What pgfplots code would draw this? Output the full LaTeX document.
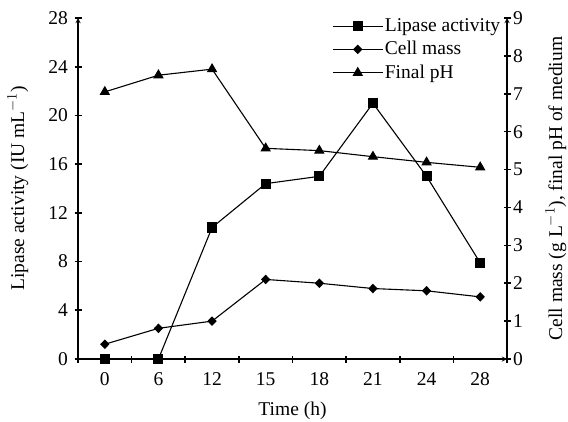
\documentclass[border=0pt]{standalone}
\usepackage{fontspec}
\setmainfont{Liberation Serif}
\usepackage{pgfplots}
\pgfplotsset{compat=1.18}
\usetikzlibrary{calc}

\begin{document}
\fontsize{19.5bp}{23bp}\selectfont
\begin{tikzpicture}
\pgfplotsset{
  every axis/.append style={
    width=429bp, height=341bp, scale only axis,
    xmin=-0.5, xmax=7.5,
    /pgf/number format/assume math mode=true,
    tick align=outside,
    axis line style={-, line width=1.3bp},
    every tick/.style={line width=1.6bp, black},
    major tick length=7bp, minor tick length=7bp,
    every axis plot/.append style={black, line width=1.1bp},
  },
}
\begin{axis}[
  name=ax,
  axis x line=bottom, axis y line=left,
  ymin=0, ymax=28, ytick={0,4,...,28},
  xtick={0,...,7}, xticklabels={0,6,12,15,18,21,24,28},
  minor xtick={-0.5,0.5,...,7.5},
  major x tick style={draw=none},
  xticklabel style={yshift=-3bp},
  xlabel={Time (h)},
  xlabel style={at={(axis description cs:0.5,-0.152)}, anchor=center},
  ylabel={Lipase activity (IU mL$^{-1}$)},
  ylabel style={at={(axis description cs:-0.14,0.5)}, anchor=center},
]
\addplot[mark=square*, mark size=4.5bp] coordinates {
  (0,0) (1,0) (2,10.8) (3,14.4) (4,15.0) (5,21.0) (6,15.0) (7,7.9)
};
\end{axis}
\begin{axis}[
  axis x line=none, axis y line=right,
  ymin=0, ymax=9, ytick={0,...,9},
  yticklabel style={xshift=-4bp},
  ylabel={Cell mass (g L$^{-1}$), final pH of medium},
  ylabel style={at={(axis description cs:1.114,0.5)}, anchor=center},
  legend style={at={(axis description cs:0.995,1.01)}, anchor=north east,
    draw=none, fill=none, row sep=4bp, nodes={inner sep=1.5bp}},
  legend cell align=left,
  legend image code/.code={\draw[mark repeat=2,mark phase=2,#1] plot coordinates {(0bp,0bp) (25bp,0bp) (50bp,0bp)};},
]
\addlegendimage{black, line width=1.1bp, mark=square*, mark size=4.5bp}
\addlegendentry{Lipase activity}
\addplot[mark=diamond*, mark size=4bp, mark options={xscale=1.3}] coordinates {
  (0,0.39) (1,0.81) (2,1.0) (3,2.1) (4,2.0) (5,1.86) (6,1.80) (7,1.64)
};
\addlegendentry{Cell mass}
\addplot[mark=triangle*, mark size=5bp] coordinates {
  (0,7.05) (1,7.49) (2,7.65) (3,5.56) (4,5.50) (5,5.34) (6,5.19) (7,5.06)
};
\addlegendentry{Final pH}
\end{axis}
\pgfresetboundingbox
\path ($(ax.south west)+(-78bp,-62bp)$) rectangle ($(ax.north east)+(61bp,18bp)$);
\end{tikzpicture}
\end{document}
